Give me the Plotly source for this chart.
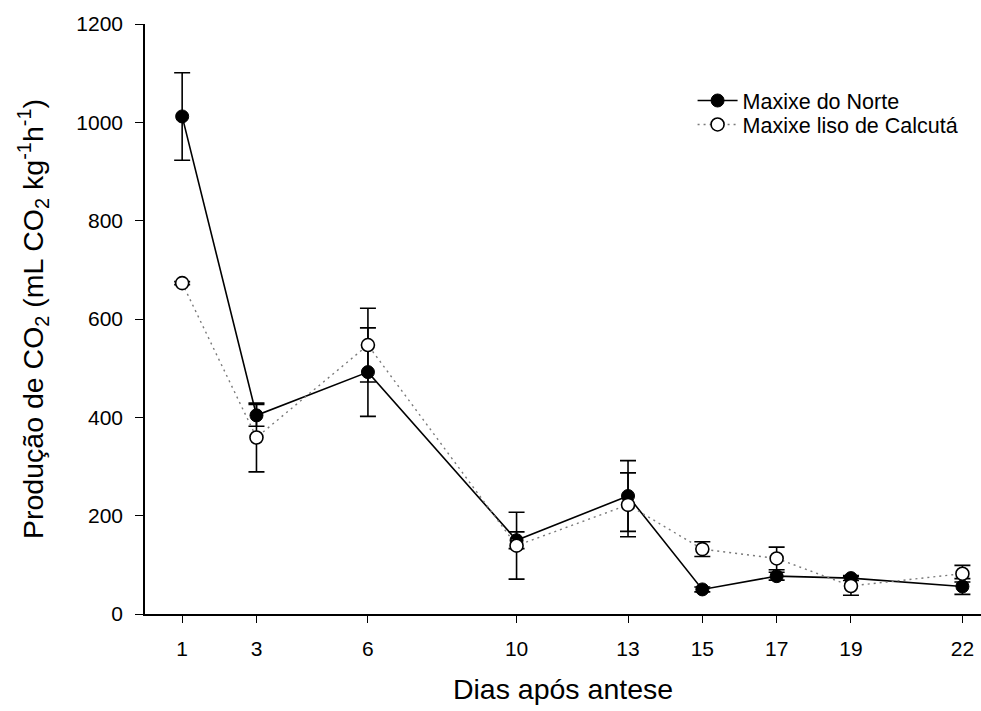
import plotly.graph_objects as go

# Days after anthesis
dias = [1, 3, 6, 10, 13, 15, 17, 19, 22]

# CO2 production (mL CO2 kg-1 h-1) and standard errors
norte = [1012, 404, 492, 150, 240, 50, 77, 73, 56]
norte_err = [89, 22, 90, 17, 72, 5, 8, 5, 16]

calcuta = [673, 359, 547, 139, 222, 132, 113, 57, 82]
calcuta_err = [3, 70, 75, 68, 65, 15, 23, 19, 17]

x_ticks = [1, 3, 6, 10, 13, 15, 17, 19, 22]
y_ticks = [0, 200, 400, 600, 800, 1000, 1200]

FONT = "Liberation Sans, Arial, sans-serif"

fig = go.Figure()

fig.add_trace(go.Scatter(
    x=dias, y=norte, name="Maxixe do Norte",
    mode="lines+markers", legend="legend",
    line=dict(color="black", width=1.6),
    marker=dict(symbol="circle", size=13, color="black",
                line=dict(color="black", width=1)),
    error_y=dict(type="data", array=norte_err, visible=True,
                 color="black", thickness=1.6, width=8),
))

fig.add_trace(go.Scatter(
    x=dias, y=calcuta, name="Maxixe liso de Calcutá",
    mode="lines+markers", legend="legend2",
    line=dict(color="#7a7a7a", width=1.4, dash="2px,4px"),
    marker=dict(symbol="circle", size=13, color="white",
                line=dict(color="black", width=1.6)),
    error_y=dict(type="data", array=calcuta_err, visible=True,
                 color="black", thickness=1.6, width=8),
))

legend_common = dict(
    xanchor="left", yanchor="middle",
    bgcolor="rgba(0,0,0,0)", borderwidth=0,
    font=dict(family=FONT, size=21.5, color="black"),
    itemwidth=40,
)

fig.update_layout(
    width=981, height=711,
    margin=dict(l=145, r=0, t=24, b=97),
    paper_bgcolor="white", plot_bgcolor="white",
    font=dict(family=FONT, size=21, color="black"),
    showlegend=True,
    legend=dict(x=0.655, y=0.8703, **legend_common),
    legend2=dict(x=0.655, y=0.8297, **legend_common),
    xaxis=dict(
        range=[0, 22.5],
        tickmode="array", tickvals=x_ticks,
        ticktext=[str(v) for v in x_ticks],
        ticks="outside", ticklen=7, tickwidth=1.4, tickcolor="black",
        showline=True, linecolor="black", linewidth=2,
        showgrid=False, zeroline=False,
        tickfont=dict(size=21),
        ticklabelstandoff=8,
        title=dict(text="Dias após antese", font=dict(size=28.5), standoff=20),
    ),
    yaxis=dict(
        range=[0, 1200],
        tickmode="array", tickvals=y_ticks,
        ticks="outside", ticklen=8, tickwidth=1.4, tickcolor="black",
        showline=True, linecolor="black", linewidth=1.5,
        showgrid=False, zeroline=False,
        tickfont=dict(size=21),
        ticklabelstandoff=8,
        title=dict(
            text="Produção de CO<sub>2</sub> (mL CO<sub>2</sub> kg<sup>-1</sup>h<sup>-1</sup>)",
            font=dict(size=28.5), standoff=24),
    ),
)

fig.write_html("out.html")
